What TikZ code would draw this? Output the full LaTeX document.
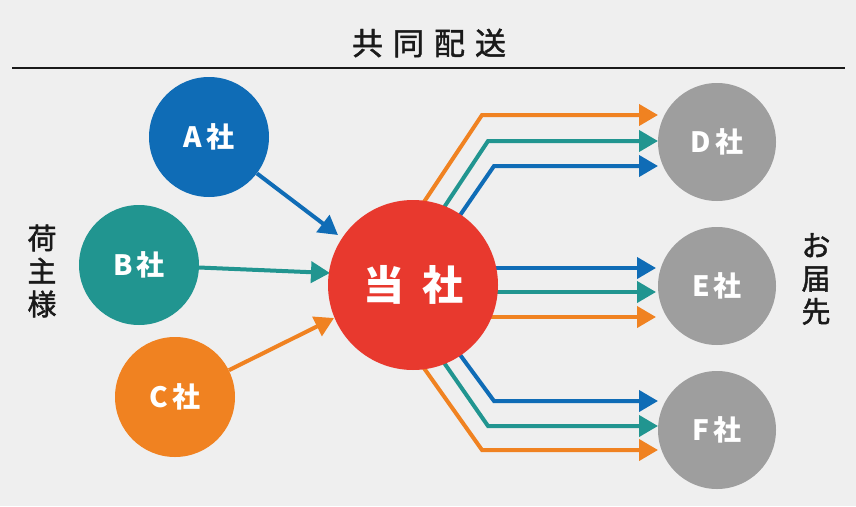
\documentclass[tikz,border=0pt]{standalone}
\usepackage{fontspec}
\usetikzlibrary{arrows.meta,calc}
\newfontfamily\cjk{Noto Sans CJK JP}
\newfontfamily\cjkm[FakeBold=1.5]{Noto Sans CJK JP}
\definecolor{cbg}{HTML}{EFEFEF}
\definecolor{cblue}{HTML}{0F6CB6}
\definecolor{cteal}{HTML}{219590}
\definecolor{corange}{HTML}{F08221}
\definecolor{cred}{HTML}{E8392E}
\definecolor{cgray}{HTML}{9E9E9E}
\definecolor{ctext}{HTML}{1A1A1A}
\pgfdeclarelayer{bglayer}
\pgfdeclarelayer{arrowlayer}
\pgfsetlayers{bglayer,arrowlayer,main}
\tikzset{
  company/.style={circle, inner sep=0pt, minimum size=120pt, text=white,
    font=\cjk\bfseries\fontsize{28}{28}\selectfont},
  dest/.style={circle, inner sep=0pt, minimum size=118pt, fill=cgray, text=white,
    font=\cjk\bfseries\fontsize{28}{28}\selectfont},
  flow/.style={line width=4pt, -{Triangle[length=19pt,width=21pt]}},
  sidetext/.style={align=center, text=ctext, inner sep=0pt,
    font=\cjkm\fontsize{29}{33}\selectfont},
}
\begin{document}
\begin{tikzpicture}[x=1pt,y=-1pt]
\begin{pgfonlayer}{bglayer}
\fill[cbg] (0,0) rectangle (856,506);
\end{pgfonlayer}
\useasboundingbox (0,0) rectangle (856,506);

% title
\node[text=ctext, font=\cjkm\fontsize{31}{31}\selectfont, inner sep=0pt] (title) at (429,43)
  {共\kern10pt 同\kern10pt 配\kern10pt 送};
\coordinate (ruleL) at (12,68);
\coordinate (ruleR) at (845,68);
\draw[line width=1.2pt, ctext] (ruleL) -- (ruleR);

% side labels
\node[sidetext] (shipper) at (42,271) {荷\\主\\様};
\node[sidetext] (destlabel) at (816,279) {お\\届\\先};

% nodes
\node[company, fill=cblue] (a) at (209,137) {A\kern4pt 社};
\node[company, fill=cteal] (b) at (139,265) {B\kern4pt 社};
\node[company, fill=corange] (c) at (175,397) {C\kern4pt 社};
\node[circle, inner sep=0pt, minimum size=170pt, fill=cred, text=white,
  font=\cjk\bfseries\fontsize{41}{41}\selectfont] (dang) at (413,285) {当\kern18pt 社};
\node[dest] (d) at (717,142) {D\kern4pt 社};
\node[dest] (e) at (717,286) {E\kern4pt 社};
\node[dest] (f) at (717,430) {F\kern4pt 社};

% coordinates for tips and bends
\coordinate (ta) at (338,235);
\coordinate (tb) at (330,273);
\coordinate (tc) at (334,318);

\coordinate (bd1) at (482,115); \coordinate (td1) at (658,115);
\coordinate (bd2) at (488,141); \coordinate (td2) at (658,141);
\coordinate (bd3) at (494,166); \coordinate (td3) at (658,166);

\coordinate (te1) at (656,268);
\coordinate (te2) at (656,292);
\coordinate (te3) at (656,317);

\coordinate (bf1) at (494,401); \coordinate (tf1) at (658,401);
\coordinate (bf2) at (488,426); \coordinate (tf2) at (658,426);
\coordinate (bf3) at (482,450); \coordinate (tf3) at (658,450);

\begin{pgfonlayer}{arrowlayer}
% incoming
\draw[flow, cblue] (a) -- (ta);
\draw[flow, cteal] (b) -- (tb);
\draw[flow, corange] (c) -- (tc);
% to D
\draw[flow, corange, line join=miter] ($(bd1)!1.2!(dang.82)$) -- (bd1) -- (td1);
\draw[flow, cteal, line join=miter] ($(bd2)!1.2!(dang.68)$) -- (bd2) -- (td2);
\draw[flow, cblue, line join=miter] ($(bd3)!1.2!(dang.56)$) -- (bd3) -- (td3);
% to E
\draw[flow, cblue] (dang.center |- te1) -- (te1);
\draw[flow, cteal] (dang.center |- te2) -- (te2);
\draw[flow, corange] (dang.center |- te3) -- (te3);
% to F
\draw[flow, cblue, line join=miter] ($(bf1)!1.2!(dang.-56)$) -- (bf1) -- (tf1);
\draw[flow, cteal, line join=miter] ($(bf2)!1.2!(dang.-68)$) -- (bf2) -- (tf2);
\draw[flow, corange, line join=miter] ($(bf3)!1.2!(dang.-82)$) -- (bf3) -- (tf3);
\end{pgfonlayer}
\end{tikzpicture}
\end{document}
